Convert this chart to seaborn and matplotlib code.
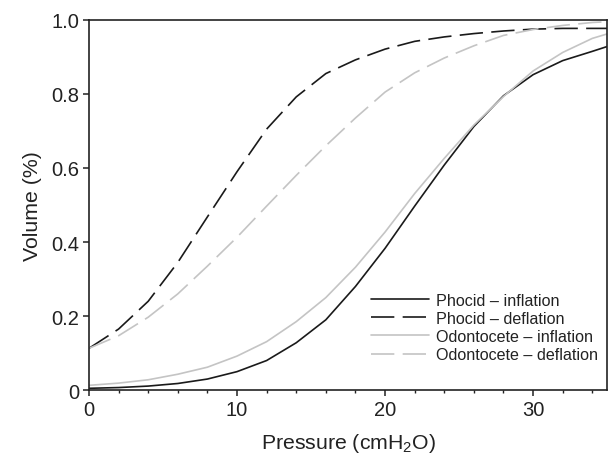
import matplotlib
matplotlib.use("Agg")
import matplotlib.pyplot as plt
import seaborn as sns
import pandas as pd
from matplotlib.ticker import MultipleLocator, FixedLocator, FixedFormatter

# ---- data ----
pressure = [0, 2, 4, 6, 8, 10, 12, 14, 16, 18, 20, 22, 24, 26, 28, 30, 32, 34, 35]
phocid_inflation = [0.005, 0.007, 0.011, 0.018, 0.030, 0.050, 0.080, 0.128, 0.190, 0.280,
                    0.383, 0.497, 0.608, 0.712, 0.795, 0.852, 0.890, 0.915, 0.928]
phocid_deflation = [0.113, 0.165, 0.240, 0.345, 0.468, 0.590, 0.705, 0.792, 0.855, 0.892,
                    0.921, 0.942, 0.954, 0.963, 0.970, 0.975, 0.977, 0.977, 0.977]
odont_inflation = [0.013, 0.019, 0.028, 0.043, 0.062, 0.092, 0.131, 0.185, 0.250, 0.332,
                   0.427, 0.531, 0.626, 0.716, 0.793, 0.862, 0.912, 0.950, 0.962]
odont_deflation = [0.113, 0.147, 0.197, 0.260, 0.335, 0.413, 0.497, 0.580, 0.660, 0.735,
                   0.805, 0.857, 0.897, 0.930, 0.958, 0.974, 0.985, 0.993, 0.995]

series_names = ["Phocid \u2013 inflation", "Phocid \u2013 deflation",
                "Odontocete \u2013 inflation", "Odontocete \u2013 deflation"]
series_values = [phocid_inflation, phocid_deflation, odont_inflation, odont_deflation]
series_colors = ["#1a1a1a", "#1a1a1a", "#c4c4c4", "#c4c4c4"]
series_dashed = [False, True, False, True]

x_ticks = [0, 10, 20, 30]
x_tick_labels = ["0", "10", "20", "30"]
y_ticks = [0, 0.2, 0.4, 0.6, 0.8, 1.0]
y_tick_labels = ["0", "0.2", "0.4", "0.6", "0.8", "1.0"]

sns.set_theme(style="white")
plt.rcParams["font.family"] = ["Liberation Sans", "DejaVu Sans"]
plt.rcParams["mathtext.fontset"] = "custom"
plt.rcParams["mathtext.rm"] = "Liberation Sans"
plt.rcParams["mathtext.it"] = "Liberation Sans:italic"

fig = plt.figure(figsize=(6.12, 4.64), dpi=100)
ax = fig.add_axes([0.1454, 0.157, 0.8466, 0.798])

for name, vals, col, dashed in zip(series_names, series_values, series_colors, series_dashed):
    df = pd.DataFrame({"Pressure": pressure, "Volume": vals})
    kw = {}
    if dashed:
        kw["linestyle"] = (0, (14, 5))
    sns.lineplot(data=df, x="Pressure", y="Volume", ax=ax, color=col, lw=1.2,
                 label=name, **kw)

ax.set_xlim(0, 35)
ax.set_ylim(0, 1.0)
ax.xaxis.set_major_locator(FixedLocator(x_ticks))
ax.xaxis.set_major_formatter(FixedFormatter(x_tick_labels))
ax.xaxis.set_minor_locator(MultipleLocator(2))
ax.yaxis.set_major_locator(FixedLocator(y_ticks))
ax.yaxis.set_major_formatter(FixedFormatter(y_tick_labels))

for s in ax.spines.values():
    s.set_visible(True)
    s.set_color("#222222")
    s.set_linewidth(1.2)

ax.tick_params(axis="both", which="major", direction="out", length=4, width=1.1,
               color="#222222", labelsize=14.5, labelcolor="#222222", pad=3,
               bottom=True, left=True)
ax.tick_params(axis="x", which="minor", direction="out", length=2.5, width=1.0,
               color="#222222", bottom=True)

ax.set_xlabel("Pressure (cmH$_2$O)", fontsize=15.3, color="#222222", labelpad=9)
ax.set_ylabel("Volume (%)", fontsize=15.3, color="#222222", labelpad=7)

leg = ax.legend(loc="lower right", bbox_to_anchor=(1.005, 0.045), frameon=False,
                fontsize=11.6, handlelength=3.6, handletextpad=0.45,
                labelspacing=0.2, borderaxespad=0.3)
for t in leg.get_texts():
    t.set_color("#222222")

fig.savefig("out.png", dpi=100)
